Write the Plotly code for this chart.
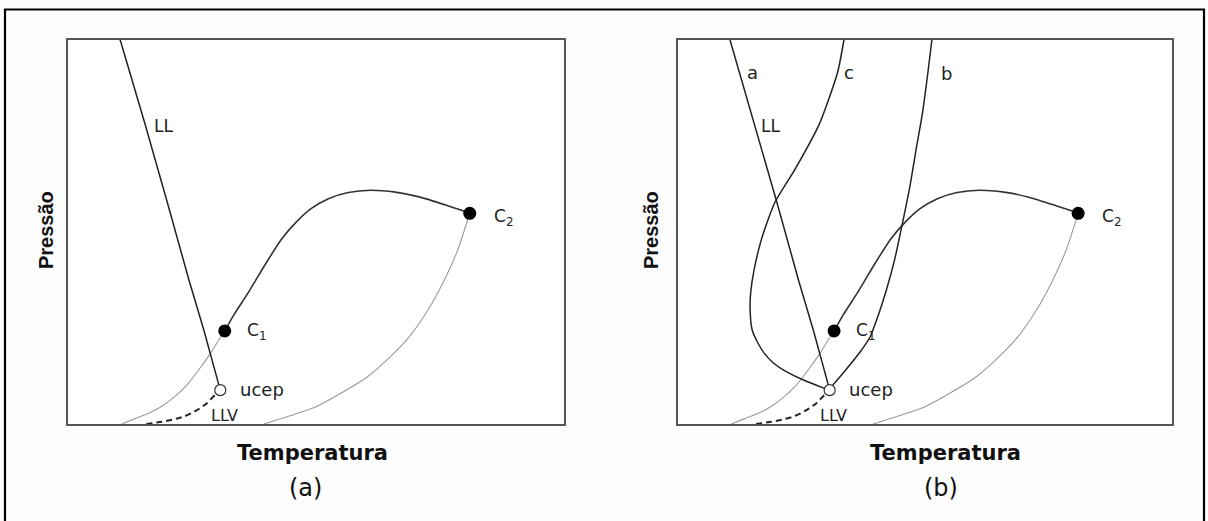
import plotly.graph_objects as go

# Phase diagram sketch: Pressão vs Temperatura, arbitrary units 0-100 on both axes.

# Critical points and upper critical end point
c1 = (31.6, 24.2)
c2 = (81.0, 54.8)
ucep = (30.7, 8.8)

# Critical line from C1 up to C2 (dark)
crit_T = [31.6, 33.5, 36.5, 40.0, 43.0, 46.0, 49.0, 52.5, 56.5, 61.0, 66.0, 71.0, 76.0, 81.0]
crit_P = [24.2, 28.5, 34.5, 42.0, 48.0, 52.5, 56.0, 58.6, 60.2, 60.8, 60.3, 59.0, 57.0, 54.8]

# Vapour-pressure curve ending at C1 (light grey)
vap1_T = [10.8, 13.5, 16.5, 19.0, 21.2, 24.0, 26.6, 28.8, 30.6, 31.6]
vap1_P = [0.0, 1.4, 2.9, 4.7, 6.8, 10.2, 14.5, 18.5, 22.3, 24.2]

# Vapour-pressure curve ending at C2 (light grey)
vap2_T = [39.5, 44.0, 50.0, 55.0, 60.4, 65.0, 69.0, 72.5, 75.5, 78.5, 81.0]
vap2_P = [0.0, 1.8, 4.5, 8.0, 12.3, 17.5, 23.0, 29.5, 36.5, 45.0, 54.8]

# Three-phase LLV line up to the ucep (dashed)
llv_T = [15.8, 18.5, 21.0, 23.5, 26.0, 28.0, 29.6, 30.7]
llv_P = [0.0, 0.5, 1.1, 2.0, 3.6, 5.4, 7.5, 8.8]

# LL critical line (panel a) / branch "a" (panel b)
ll_T = [10.5, 15.6, 19.9, 24.4, 27.4, 29.4, 30.7]
ll_P = [100.0, 77.7, 58.2, 37.4, 24.4, 15.0, 8.8]

# Branch "c" (panel b)
lc_T = [33.6, 32.3, 28.6, 23.8, 19.6, 17.0, 15.4, 14.7, 14.6, 15.0, 16.2, 17.4, 19.2, 21.3, 25.3, 29.4, 30.7]
lc_P = [100.0, 91.4, 78.0, 66.5, 57.6, 48.5, 40.1, 34.0, 29.7, 24.5, 21.0, 18.5, 16.0, 14.1, 11.5, 9.4, 8.8]

# Branch "b" (panel b)
lb_T = [51.4, 50.5, 49.5, 48.2, 46.9, 45.3, 43.9, 42.2, 40.6, 38.9, 36.9, 34.8, 32.8, 31.1, 30.7]
lb_P = [100.0, 90.5, 81.0, 71.4, 61.5, 51.4, 43.0, 34.9, 28.5, 22.7, 18.8, 15.4, 12.3, 9.7, 8.8]

W, H = 1208, 521
LABEL_FONT = "DejaVu Sans"
DARK = "#222222"
GREY = "#9a9a9a"


def px(x):
    return x / W


def py(y):
    return 1 - y / H


fig = go.Figure()


def line(xs, ys, xa, ya, color, width, dash="solid", shape="spline"):
    fig.add_trace(go.Scatter(
        x=xs, y=ys, xaxis=xa, yaxis=ya, mode="lines",
        line=dict(color=color, width=width, dash=dash, shape=shape, smoothing=0.6),
        hoverinfo="skip", showlegend=False))


def points(xa, ya):
    fig.add_trace(go.Scatter(
        x=[c1[0], c2[0]], y=[c1[1], c2[1]], xaxis=xa, yaxis=ya, mode="markers",
        marker=dict(size=13, color="#000000", line=dict(width=0)),
        hoverinfo="skip", showlegend=False))
    fig.add_trace(go.Scatter(
        x=[ucep[0]], y=[ucep[1]], xaxis=xa, yaxis=ya, mode="markers",
        marker=dict(size=11, color="#ffffff", line=dict(width=1.2, color="#333333")),
        hoverinfo="skip", showlegend=False))


for xa, ya in (("x", "y"), ("x2", "y2")):
    line(vap1_T, vap1_P, xa, ya, GREY, 1.1)
    line(vap2_T, vap2_P, xa, ya, GREY, 1.1)
    line(llv_T, llv_P, xa, ya, DARK, 2.0, dash="6px,4px")
    line(crit_T, crit_P, xa, ya, "#333333", 1.6)
    line(ll_T, ll_P, xa, ya, DARK, 1.5, shape="linear")

line(lc_T, lc_P, "x2", "y2", DARK, 1.5)
line(lb_T, lb_P, "x2", "y2", DARK, 1.5)

points("x", "y")
points("x2", "y2")

annotations = []


def label(text, x, y, xref, yref, size, anchor="left", color="#222222"):
    annotations.append(dict(
        text=text, x=x, y=y, xref=xref, yref=yref, showarrow=False,
        xanchor=anchor, yanchor="middle",
        font=dict(family=LABEL_FONT, size=size, color=color)))


for xr, yr, ll_x in (("x", "y", 19.2), ("x2", "y2", 18.8)):
    label("LL", ll_x, 77.5, xr, yr, 17, anchor="center")
    label("C<sub>1</sub>", 35.6, 24.0, xr, yr, 17)
    label("C<sub>2</sub>", 85.4, 53.6, xr, yr, 17)
    label("ucep", 34.3, 9.0, xr, yr, 18)
    label("LLV", 28.4, 2.2, xr, yr, 16)

label("a", 15.0, 91.5, "x2", "y2", 18, anchor="center")
label("c", 34.7, 91.5, "x2", "y2", 18, anchor="center")
label("b", 54.3, 91.2, "x2", "y2", 18, anchor="center")

# Axis titles and panel captions
for cx, cap, cap_x, yl_x in ((312.5, "(a)", 305, 46), (945, "(b)", 941, 651)):
    annotations.append(dict(
        text="<b>Temperatura</b>", x=px(cx), y=py(453), xref="paper", yref="paper",
        showarrow=False, xanchor="center", yanchor="middle",
        font=dict(family=LABEL_FONT, size=21, color="#111111")))
    annotations.append(dict(
        text=cap, x=px(cap_x), y=py(488), xref="paper", yref="paper",
        showarrow=False, xanchor="center", yanchor="middle",
        font=dict(family=LABEL_FONT, size=24, color="#111111")))
    annotations.append(dict(
        text="<b>Pressão</b>", x=px(yl_x), y=py(230), xref="paper", yref="paper",
        showarrow=False, xanchor="center", yanchor="middle", textangle=-90,
        font=dict(family="Liberation Sans, Arial", size=20, color="#111111")))

axis_style = dict(range=[0, 100], showgrid=False, zeroline=False, showticklabels=False,
                  ticks="", showline=True, mirror=True, linecolor="#555555", linewidth=1.5,
                  fixedrange=True)

y_dom = [py(424), py(39.5)]
fig.update_layout(
    width=W, height=H,
    margin=dict(l=0, r=0, t=0, b=0),
    paper_bgcolor="#fdfdfd", plot_bgcolor="#ffffff",
    xaxis=dict(domain=[px(68), px(564)], **axis_style),
    yaxis=dict(domain=y_dom, anchor="x", **axis_style),
    xaxis2=dict(domain=[px(678), px(1172)], anchor="y2", **axis_style),
    yaxis2=dict(domain=y_dom, anchor="x2", **axis_style),
    annotations=annotations,
    shapes=[dict(type="rect", xref="paper", yref="paper",
                 x0=px(5), x1=px(1204), y0=-0.2, y1=py(9.5),
                 line=dict(color="#000000", width=2.2), fillcolor="rgba(0,0,0,0)")],
)

fig.write_html("out.html")
